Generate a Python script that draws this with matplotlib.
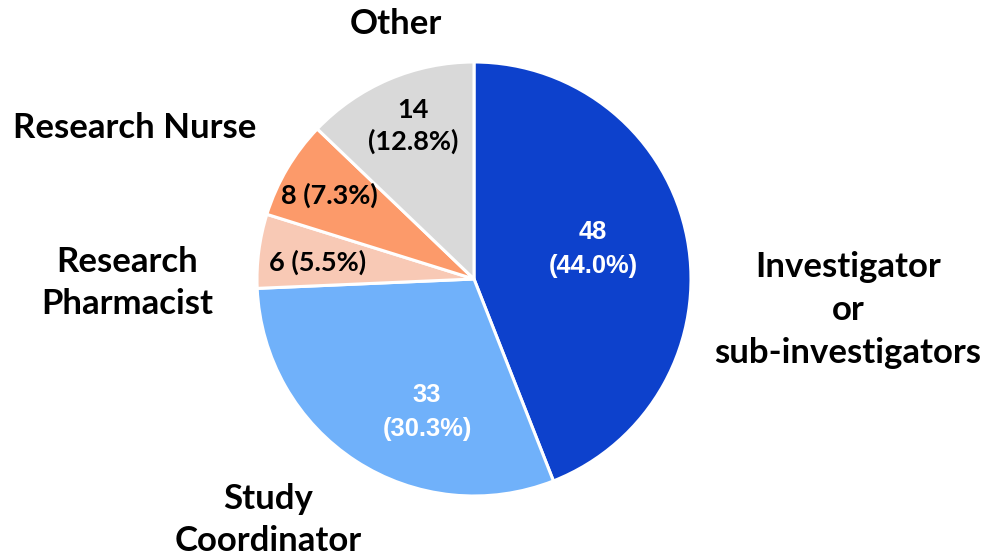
import matplotlib
matplotlib.use("Agg")
import matplotlib.pyplot as plt

categories = ["Investigator\nor\nsub-investigators", "Study\nCoordinator",
              "Research\nPharmacist", "Research Nurse", "Other"]
values = [48, 33, 6, 8, 14]
pct_labels = ["48\n(44.0%)", "33\n(30.3%)", "6 (5.5%)", "8 (7.3%)", "14\n(12.8%)"]
colors = ["#0D41CC", "#70B1FA", "#F8C9B5", "#FC9A6A", "#D9D9D9"]
inner_text_colors = ["white", "white", "black", "black", "black"]

W, H = 989, 558
fig = plt.figure(figsize=(W / 100, H / 100), dpi=100)
ax = fig.add_axes([0, 0, 1, 1])

ax.pie(values, colors=colors, startangle=90, counterclock=False,
       center=(474, H - 279), radius=217, frame=True,
       wedgeprops=dict(edgecolor="white", linewidth=2.2))
ax.set_xlim(0, W)
ax.set_ylim(0, H)
ax.set_aspect("equal")
ax.axis("off")

outer_font = "Lato"
inner_pos = [(593, 249), (427, 412), (318, 262), (329, 195), (413, 126)]
for (x, y), t, c in zip(inner_pos, pct_labels, inner_text_colors):
    if c == "white":
        ax.text(x, H - y, t, ha="center", va="center", color=c, fontsize=18.4,
                fontweight="bold", family="Liberation Sans", linespacing=1.55)
    else:
        ax.text(x, H - y, t, ha="center", va="center", color=c, fontsize=19.5,
                fontweight="bold", family=outer_font, linespacing=1.3)

outer_pos = [(848, 310), (268, 520), (127, 283), (135, 128), (396, 24)]
for (x, y), t in zip(outer_pos, categories):
    ax.text(x, H - y, t, ha="center", va="center", color="black", fontsize=25,
            fontweight="bold", family=outer_font, linespacing=1.42)

fig.savefig("out.png", dpi=100)
